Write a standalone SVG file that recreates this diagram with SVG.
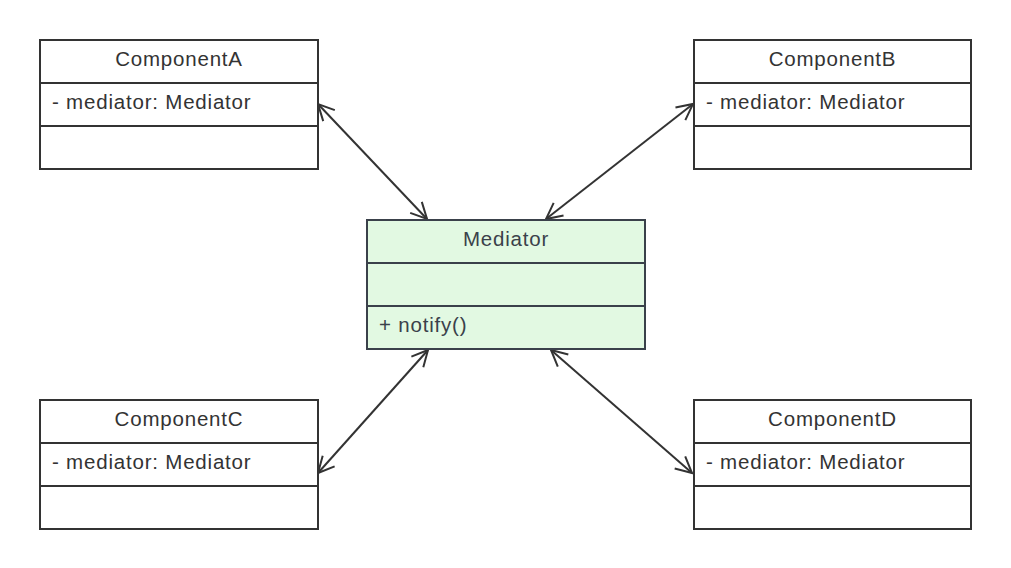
<svg xmlns="http://www.w3.org/2000/svg" width="1011" height="568" viewBox="0 0 1011 568">
<defs>
<style>
.box{fill:#ffffff;stroke:#333333;stroke-width:2}
.med{fill:#e2f9e2;stroke:#3a414a;stroke-width:2}
.div{stroke:#333333;stroke-width:2}
.t{font-family:"Liberation Sans",Arial,sans-serif;font-size:20.5px;fill:#333333;letter-spacing:0.8px}
.c{text-anchor:middle}
.conn{stroke:#333333;stroke-width:2;fill:none;marker-start:url(#ah);marker-end:url(#ah)}
</style>
<marker id="ah" markerUnits="userSpaceOnUse" viewBox="-20 -12 24 24" refX="0" refY="0" markerWidth="24" markerHeight="24" orient="auto-start-reverse">
<path d="M -16 -8 L 0 0 L -16 8" fill="none" stroke="#333333" stroke-width="2"/>
</marker>
</defs>
<rect width="1011" height="568" fill="#ffffff"/>
<g id="connectors">
<line class="conn" x1="318" y1="104" x2="427" y2="219"/>
<line class="conn" x1="693" y1="104" x2="546" y2="219"/>
<line class="conn" x1="318" y1="473" x2="428" y2="350"/>
<line class="conn" x1="692" y1="473" x2="551" y2="350"/>
</g>
<g id="componentA">
<rect class="box" x="40" y="40" width="278" height="129"/>
<line class="div" x1="40" y1="83" x2="318" y2="83"/>
<line class="div" x1="40" y1="126" x2="318" y2="126"/>
<text class="t c" x="179" y="66">ComponentA</text>
<text class="t" x="52" y="109">- mediator: Mediator</text>
</g>
<g id="componentB">
<rect class="box" x="694" y="40" width="277" height="129"/>
<line class="div" x1="694" y1="83" x2="971" y2="83"/>
<line class="div" x1="694" y1="126" x2="971" y2="126"/>
<text class="t c" x="832.5" y="66">ComponentB</text>
<text class="t" x="706" y="109">- mediator: Mediator</text>
</g>
<g id="componentC">
<rect class="box" x="40" y="400" width="278" height="129"/>
<line class="div" x1="40" y1="443" x2="318" y2="443"/>
<line class="div" x1="40" y1="486" x2="318" y2="486"/>
<text class="t c" x="179" y="426">ComponentC</text>
<text class="t" x="52" y="469">- mediator: Mediator</text>
</g>
<g id="componentD">
<rect class="box" x="694" y="400" width="277" height="129"/>
<line class="div" x1="694" y1="443" x2="971" y2="443"/>
<line class="div" x1="694" y1="486" x2="971" y2="486"/>
<text class="t c" x="832.5" y="426">ComponentD</text>
<text class="t" x="706" y="469">- mediator: Mediator</text>
</g>
<g id="mediator">
<rect class="med" x="367" y="220" width="278" height="129"/>
<line class="div" x1="367" y1="263" x2="645" y2="263" style="stroke:#3a414a"/>
<line class="div" x1="367" y1="306" x2="645" y2="306" style="stroke:#3a414a"/>
<text class="t c" x="506" y="246" style="fill:#3a414a">Mediator</text>
<text class="t" x="379" y="332" style="fill:#3a414a">+ notify()</text>
</g>
</svg>
